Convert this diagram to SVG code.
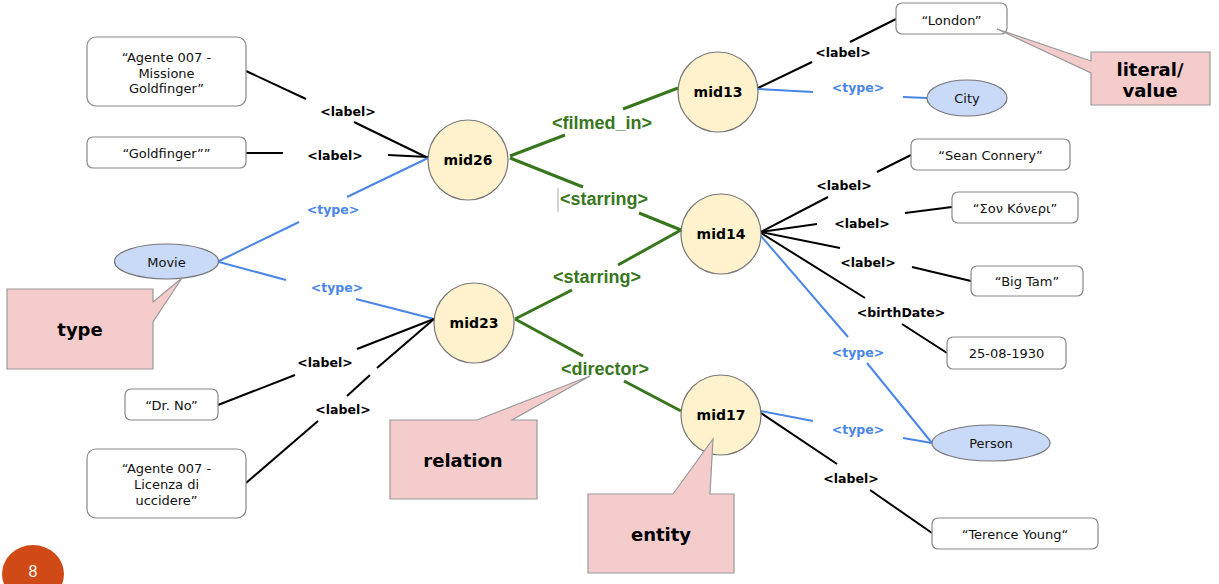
<svg xmlns="http://www.w3.org/2000/svg" width="1219" height="584" viewBox="0 0 1219 584">
<style>
.lit{fill:#fff;stroke:#888;stroke-width:1.2}
.ent{fill:#fff2cc;stroke:#777;stroke-width:1.2}
.cls{fill:#c9daf8;stroke:#777;stroke-width:1.2}
.call{fill:#f4cccc;stroke:#999;stroke-width:1.2}
.k{stroke:#000;stroke-width:2;fill:none}
.g{stroke:#38761d;stroke-width:3;fill:none}
.b{stroke:#4a86e8;stroke-width:2;fill:none}
text{font-family:"DejaVu Sans","Noto Sans",sans-serif;text-anchor:middle}
.t{font-size:13px;fill:#111}
.n{font-size:14px;font-weight:bold;fill:#000}
.lb{font-size:12.5px;font-weight:bold;fill:#000}
.ty{font-size:12.5px;font-weight:bold;fill:#4a86e8}
.rel{font-family:"Liberation Sans",Arial,sans-serif;font-size:18px;font-weight:bold;fill:#38761d}
.co{font-size:18px;font-weight:bold;fill:#000}
</style>
<rect width="1219" height="584" fill="#fff"/>

<g id="connectors">
  <!-- mid26 -->
  <polyline class="k" points="246,71 306,99"/><polyline class="k" points="354,122 428,158"/>
  <polyline class="k" points="246,153 283,153"/><polyline class="k" points="388,155 428,157"/>
  <polyline class="b" points="219,261 299,222"/><polyline class="b" points="347,197 428,158"/>
  <!-- mid23 -->
  <polyline class="b" points="219,262 286,280"/><polyline class="b" points="356,299 434,319"/>
  <polyline class="k" points="218,405 295,375"/><polyline class="k" points="357,349 434,319"/>
  <polyline class="k" points="246,483 318,421"/><polyline class="k" points="347,396 370,375"/><polyline class="k" points="377,368 434,319"/>
  <!-- relations -->
  <polyline class="g" points="510,156 565,135"/><polyline class="g" points="623,109 678,88"/>
  <polyline class="g" points="510,158 583,187"/><polyline class="g" points="639,213 681,230"/>
  <polyline class="g" points="515,319 572,290"/><polyline class="g" points="618,265 681,230"/>
  <polyline class="g" points="515,319 583,356"/><polyline class="g" points="624,381 681,411"/>
  <line x1="558" y1="188" x2="558" y2="212" stroke="#aaa" stroke-width="1"/>
  <!-- mid13 -->
  <polyline class="k" points="758,88 812,62"/><polyline class="k" points="850,42 896,19"/>
  <polyline class="b" points="758,89 813,92"/><polyline class="b" points="903,97 927,98"/>
  <!-- mid14 -->
  <polyline class="k" points="761,232 828,197"/><polyline class="k" points="877,172 911,155"/>
  <polyline class="k" points="761,232 817,224"/><polyline class="k" points="905,213 952,207"/>
  <polyline class="k" points="761,232 840,248"/><polyline class="k" points="912,267 971,281"/>
  <polyline class="k" points="761,233 865,298"/><polyline class="k" points="902,324 947,353"/>
  <polyline class="b" points="761,236 848,337"/><polyline class="b" points="867,363 932,443"/>
  <!-- mid17 -->
  <polyline class="b" points="761,411 813,421"/><polyline class="b" points="903,438 932,443"/>
  <polyline class="k" points="761,413 837,464"/><polyline class="k" points="870,490 932,533"/>
</g>

<g id="edge-labels">
  <text class="lb" x="348" y="115.5">&lt;label&gt;</text>
  <text class="lb" x="335" y="159.5">&lt;label&gt;</text>
  <text class="ty" x="333" y="213.5">&lt;type&gt;</text>
  <text class="ty" x="337" y="291.5">&lt;type&gt;</text>
  <text class="lb" x="325" y="366.5">&lt;label&gt;</text>
  <text class="lb" x="343" y="413.5">&lt;label&gt;</text>
  <text class="rel" x="602" y="128.5">&lt;filmed_in&gt;</text>
  <text class="rel" x="604" y="204.5">&lt;starring&gt;</text>
  <text class="rel" x="597" y="282.5">&lt;starring&gt;</text>
  <text class="rel" x="605" y="374.5">&lt;director&gt;</text>
  <text class="lb" x="843" y="56.5">&lt;label&gt;</text>
  <text class="ty" x="858" y="91.5">&lt;type&gt;</text>
  <text class="lb" x="844" y="189.5">&lt;label&gt;</text>
  <text class="lb" x="862" y="227.5">&lt;label&gt;</text>
  <text class="lb" x="868" y="266.5">&lt;label&gt;</text>
  <text class="lb" x="901" y="316.5">&lt;birthDate&gt;</text>
  <text class="ty" x="858" y="356.5">&lt;type&gt;</text>
  <text class="ty" x="858" y="433.5">&lt;type&gt;</text>
  <text class="lb" x="851" y="482.5">&lt;label&gt;</text>
</g>

<g id="mid26"><circle class="ent" cx="468" cy="160" r="40"/><text class="n" x="468" y="165">mid26</text></g>
<g id="mid13"><circle class="ent" cx="718" cy="92" r="40"/><text class="n" x="718" y="97">mid13</text></g>
<g id="mid14"><circle class="ent" cx="721" cy="234" r="40"/><text class="n" x="721" y="239">mid14</text></g>
<g id="mid23"><circle class="ent" cx="474" cy="323" r="40"/><text class="n" x="474" y="328">mid23</text></g>
<g id="mid17"><circle class="ent" cx="721" cy="415" r="40"/><text class="n" x="721" y="420">mid17</text></g>

<g id="movie"><ellipse class="cls" cx="166.5" cy="261.5" rx="52" ry="17.5"/><text class="t" x="166.5" y="266.5">Movie</text></g>
<g id="city"><ellipse class="cls" cx="967" cy="98" rx="40" ry="18"/><text class="t" x="967" y="102.5">City</text></g>
<g id="person"><ellipse class="cls" cx="991" cy="443" rx="59" ry="18"/><text class="t" x="991" y="447.5">Person</text></g>

<g id="lit-missione"><rect class="lit" x="87" y="37" width="159" height="69" rx="9"/>
  <text class="t" x="166.5" y="61.5">“Agente 007 -</text><text class="t" x="166.5" y="77.5">Missione</text><text class="t" x="166.5" y="92.5">Goldfinger”</text></g>
<g id="lit-goldfinger"><rect class="lit" x="87" y="137" width="159" height="31" rx="6"/><text class="t" x="166.5" y="157.5">“Goldfinger””</text></g>
<g id="lit-drno"><rect class="lit" x="125" y="389" width="93" height="31" rx="6"/><text class="t" x="171.5" y="409.5">“Dr. No”</text></g>
<g id="lit-licenza"><rect class="lit" x="87" y="449" width="159" height="69" rx="9"/>
  <text class="t" x="166.5" y="472.5">“Agente 007 -</text><text class="t" x="166.5" y="488.5">Licenza di</text><text class="t" x="166.5" y="504.5">uccidere”</text></g>
<g id="lit-london"><rect class="lit" x="896" y="3" width="111" height="31" rx="6"/><text class="t" x="951.5" y="25">“London”</text></g>
<g id="lit-sean"><rect class="lit" x="911" y="139" width="159" height="31" rx="6"/><text class="t" x="990.5" y="159.5">“Sean Connery”</text></g>
<g id="lit-greek"><rect class="lit" x="952" y="192" width="126" height="31" rx="6"/><text class="t" x="1015" y="212.5">“Σον Κόνερι”</text></g>
<g id="lit-bigtam"><rect class="lit" x="971" y="266" width="112" height="30" rx="6"/><text class="t" x="1027" y="285.5">“Big Tam”</text></g>
<g id="lit-date"><rect class="lit" x="947" y="337" width="119" height="32" rx="6"/><text class="t" x="1006.5" y="357.5">25-08-1930</text></g>
<g id="lit-terence"><rect class="lit" x="932" y="518" width="166" height="31" rx="6"/><text class="t" x="1015" y="538.5">“Terence Young“</text></g>

<g id="callout-type"><polygon class="call" points="7,289 153,289 153,302 182,278 153,322 153,369 7,369"/><text class="co" x="80" y="336">type</text></g>
<g id="callout-literal"><polygon class="call" points="1091,52 1210,52 1210,105 1091,105 1091,73 997,29 1091,61"/><text class="co" x="1150" y="76">literal/</text><text class="co" x="1150" y="97">value</text></g>
<g id="callout-relation"><polygon class="call" points="390,420 477,420 590,376 512,420 537,420 537,499 390,499"/><text class="co" x="463" y="467">relation</text></g>
<g id="callout-entity"><polygon class="call" points="588,494 673,494 713,439 710,494 734,494 734,573 588,573"/><text class="co" x="661" y="541">entity</text></g>

<g id="page-number"><ellipse cx="33" cy="574" rx="31" ry="29" fill="#d04a17"/><text x="33" y="577" style="font-family:'Liberation Sans',Arial,sans-serif;font-size:16px;fill:#fff">8</text></g>
</svg>
